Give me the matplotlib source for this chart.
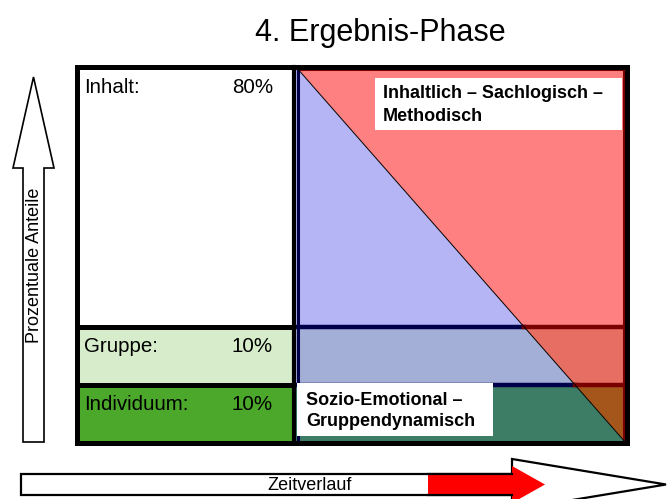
import matplotlib.pyplot as plt
from matplotlib.patches import Polygon, Rectangle

plt.rcParams['font.family'] = ['Liberation Sans', 'DejaVu Sans']

# Daten
title = "4. Ergebnis-Phase"
categories = ["Inhalt:", "Gruppe:", "Individuum:"]
shares = [80, 10, 10]
left_colors = ["#FFFFFF", "#D6ECCB", "#4BA82B"]
blue_colors = ["#B5B5F5", "#A4AFD7", "#3D7D66"]
red_colors = ["#FF8080", "#E66E62", "#A5561A"]
label_top = "Inhaltlich – Sachlogisch –\nMethodisch"
label_bottom = "Sozio-Emotional –\nGruppendynamisch"
y_label = "Prozentuale Anteile"
x_label = "Zeitverlauf"

# Layout (Pixel)
W, H = 670, 499
x_left, x_mid, x_right = 77, 294, 627
y_top, y_bot = 67, 443
rows = [(67, 327), (327, 385), (385, 443)]

fig = plt.figure(figsize=(W / 100, H / 100), dpi=100)
ax = fig.add_axes([0, 0, 1, 1])
ax.set_xlim(0, W)
ax.set_ylim(H, 0)
ax.axis('off')

ax.text(380, 33, title, fontsize=22, ha='center', va='center')

# linke Spalte
for (ya, yb), cat, share, col in zip(rows, categories, shares, left_colors):
    ax.add_patch(Rectangle((x_left, ya), x_mid - x_left, yb - ya,
                           facecolor=col, edgecolor='black', lw=3.6, zorder=2))
    ax.text(84, ya + 20, cat, fontsize=14.8, va='center', ha='left', zorder=5)
    ax.text(273, ya + 20, f"{share}%", fontsize=14.8, va='center', ha='right', zorder=5)


# rechte Spalte: Diagonale trennt blau (unten links) und rot (oben rechts)
xl, xr = x_mid + 2, x_right - 1


def xdiag(y):
    return xl + (y - y_top) / (y_bot - y_top) * (xr - xl)


for (ya, yb), cb, cr in zip(rows, blue_colors, red_colors):
    ax.add_patch(Polygon([(xl, ya), (xdiag(ya), ya), (xdiag(yb), yb), (xl, yb)],
                         closed=True, facecolor=cb, edgecolor='none', zorder=2))
    ax.add_patch(Polygon([(xdiag(ya), ya), (xr, ya), (xr, yb), (xdiag(yb), yb)],
                         closed=True, facecolor=cr, edgecolor='none', zorder=2))

# Trennlinien rechts
for yy in [rows[0][1], rows[1][1]]:
    ax.plot([xl, xdiag(yy)], [yy, yy], color='#00004A', lw=3.2, zorder=3)
    ax.plot([xdiag(yy), xr], [yy, yy], color='#7A0000', lw=3.2, zorder=3)
ax.plot([xl + 3, xr - 2], [y_top + 2, y_top + 2], color='#7A0000', lw=2.2, zorder=3)
ax.plot([xr - 2, xr - 2], [y_top + 2, y_bot], color='#7A0000', lw=2.2, zorder=3)
ax.plot([xl + 2, xl + 2], [y_top, y_bot], color='#00004A', lw=2.2, zorder=3)
ax.plot([xl, xr], [y_bot - 1, y_bot - 1], color='#00004A', lw=2.2, zorder=3)
ax.plot([xl, xr], [y_top, y_bot], color='black', lw=0.7, zorder=3)

# Rahmen
ax.add_patch(Rectangle((x_left, y_top), x_right - x_left, y_bot - y_top,
                       facecolor='none', edgecolor='black', lw=3.6, zorder=4))
ax.plot([x_mid, x_mid], [y_top, y_bot], color='black', lw=3.0, zorder=4)

# Beschriftungsboxen
ax.add_patch(Rectangle((375, 78), 247, 52, facecolor='white', edgecolor='none', zorder=5))
ax.text(383, 105, label_top, fontsize=13, fontweight='bold', va='center', ha='left',
        linespacing=1.4, zorder=6)
ax.add_patch(Rectangle((297, 383), 196, 53, facecolor='white', edgecolor='none', zorder=5))
ax.text(306, 411, label_bottom, fontsize=13, fontweight='bold', va='center', ha='left',
        linespacing=1.35, zorder=6)

# Pfeil links (Prozentuale Anteile)
ax.add_patch(Polygon([(23, 442), (44, 442), (44, 168), (54, 168), (33.5, 77),
                      (13, 168), (23, 168)], closed=True, facecolor='white',
                     edgecolor='black', lw=1.2, zorder=2))
ax.text(35, 265, y_label, fontsize=13, rotation=90, ha='center', va='center', zorder=3)

# Pfeil unten (Zeitverlauf)
ax.add_patch(Polygon([(21, 474), (512, 474), (512, 459), (666, 484.5), (512, 510),
                      (512, 495), (21, 495)], closed=True, facecolor='white',
                     edgecolor='black', lw=1.6, zorder=2))
ax.add_patch(Polygon([(428, 475), (512, 475), (512, 466), (545, 484.5), (512, 503),
                      (512, 494), (428, 494)], closed=True, facecolor='#FF0000',
                     edgecolor='none', zorder=3))
ax.plot([428, 512], [474, 474], color='black', lw=1.6, zorder=4)
ax.plot([428, 512], [495, 495], color='black', lw=1.6, zorder=4)
ax.text(310, 485, x_label, fontsize=13, ha='center', va='center', zorder=5)

fig.savefig('out.png', dpi=100)
